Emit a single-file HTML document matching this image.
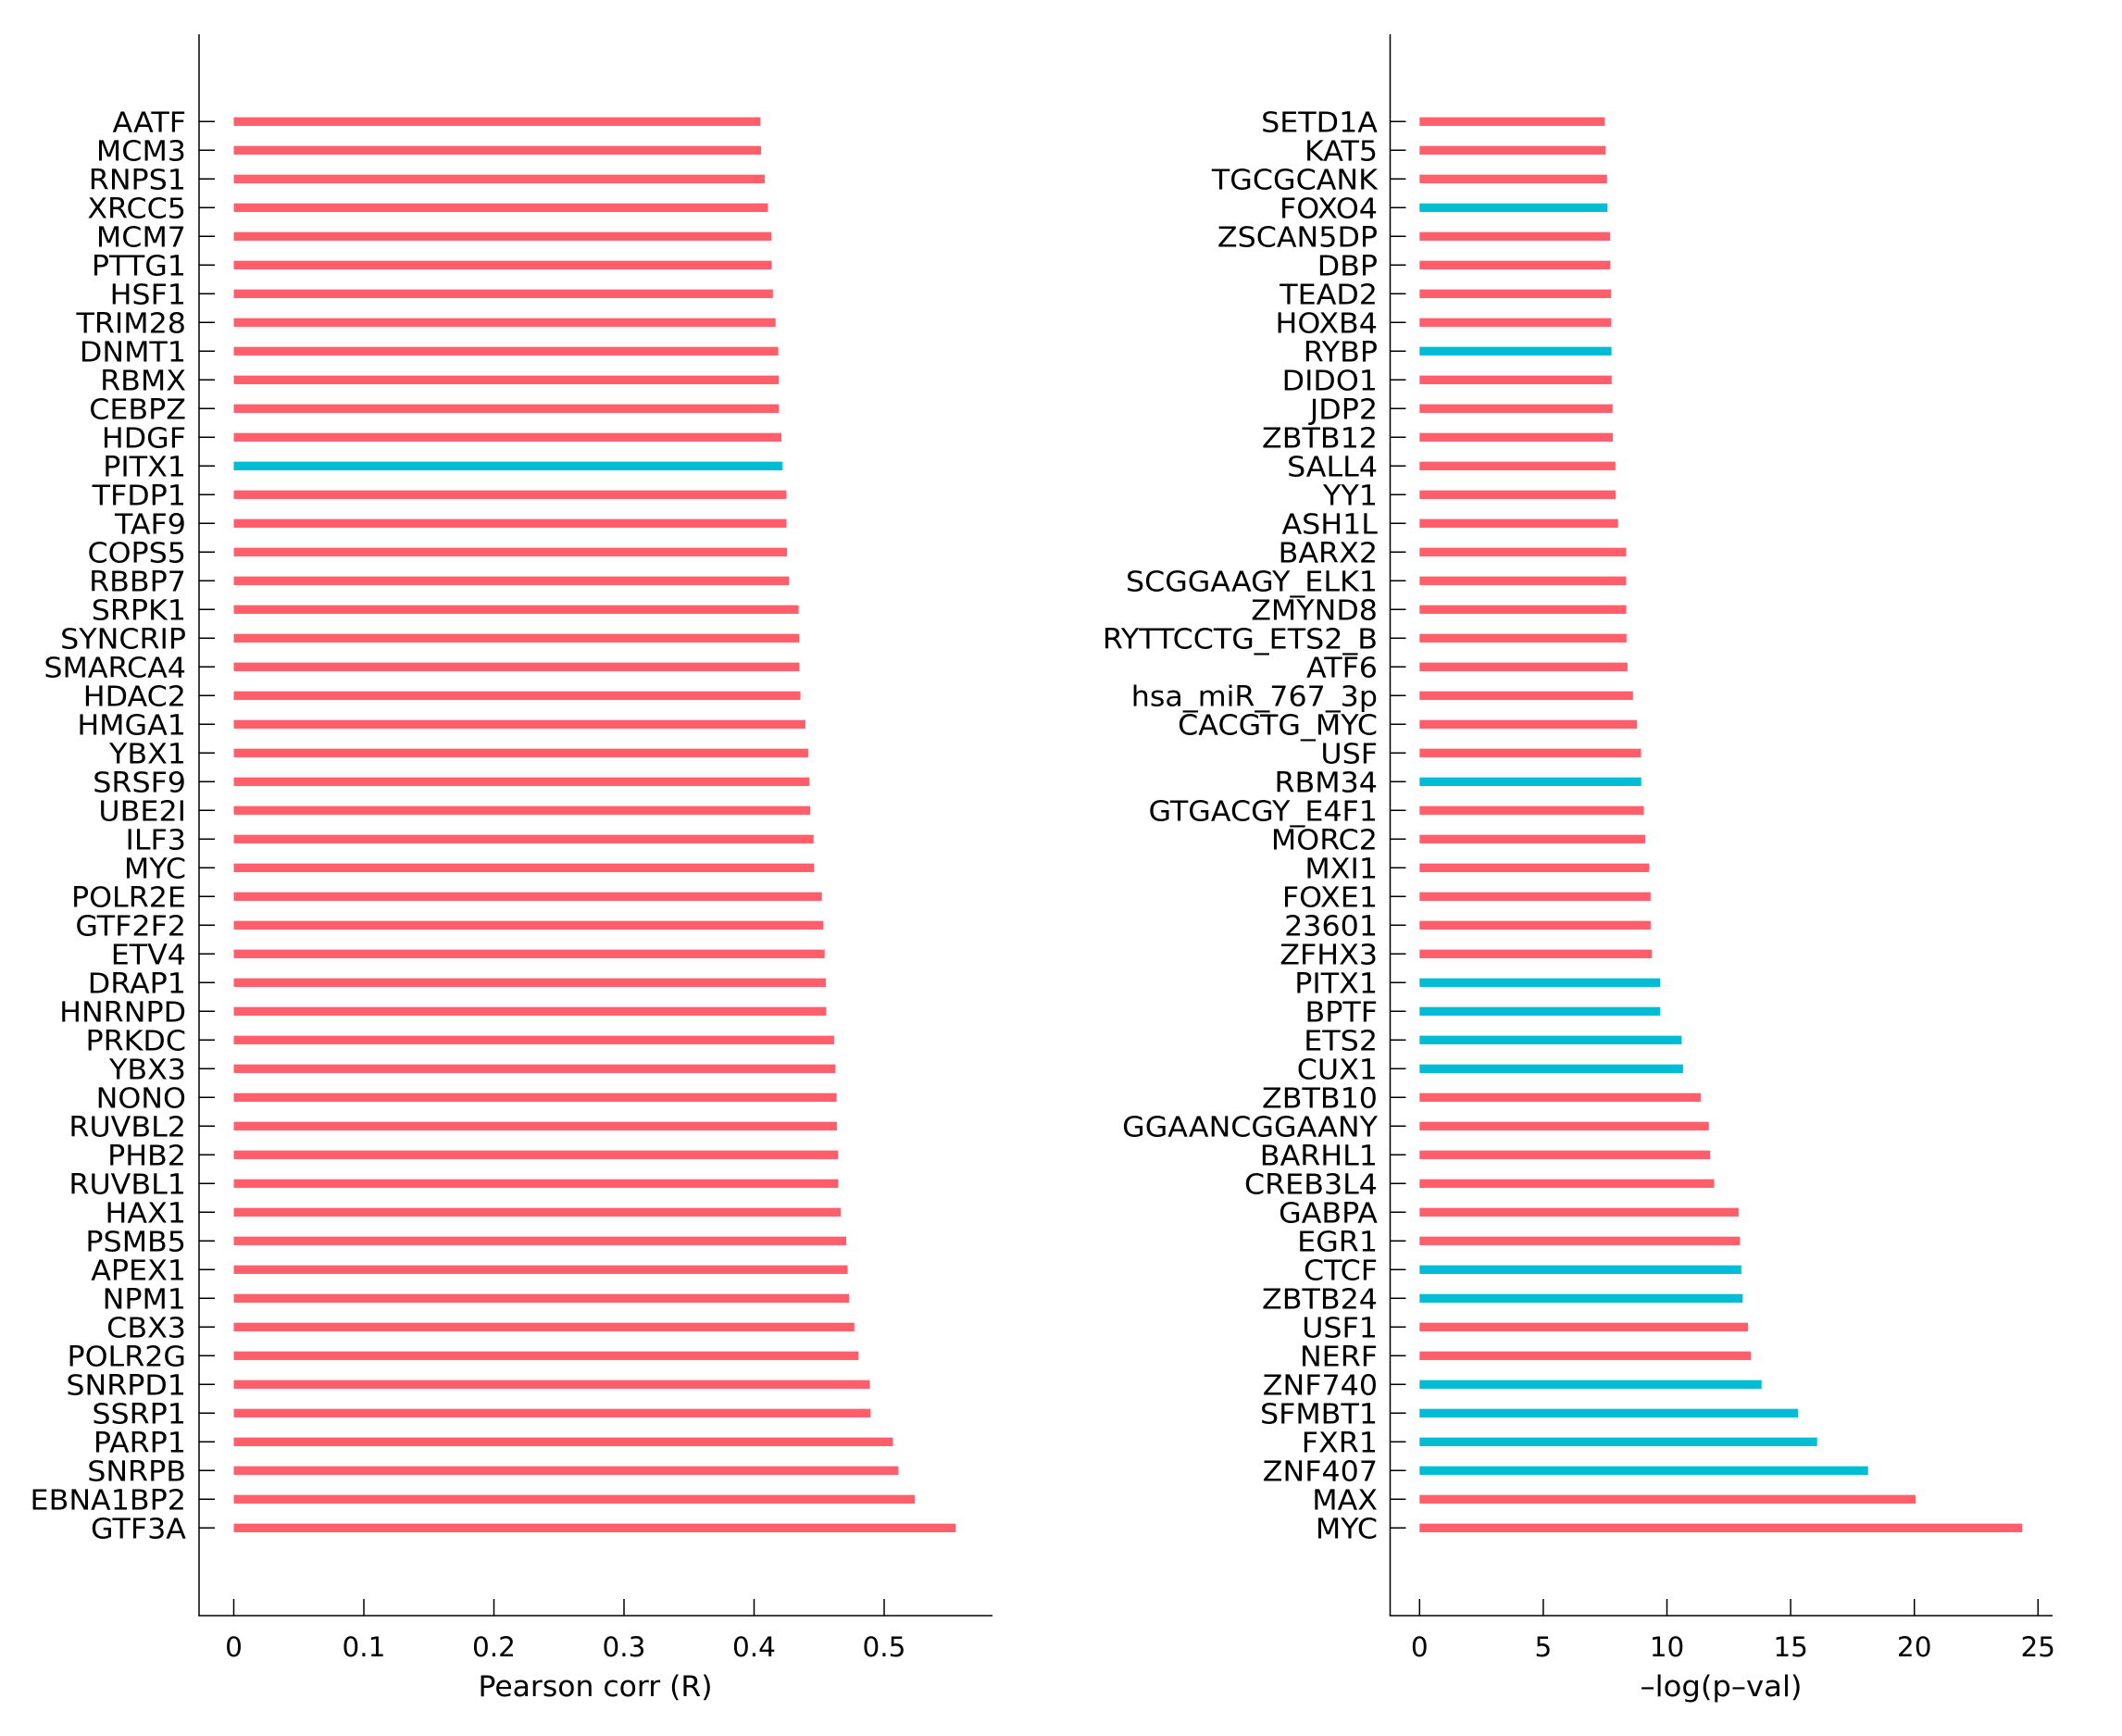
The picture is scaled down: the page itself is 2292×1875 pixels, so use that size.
<!DOCTYPE html>
<html><head><meta charset="utf-8"><style>
html,body{margin:0;padding:0;background:#fff;}
svg{display:block;}
text{font-family:"DejaVu Sans","Liberation Sans",sans-serif;fill:#000;}
.l text{font-size:30.5px;text-anchor:end;transform-box:fill-box;transform-origin:100% 50%;transform:scaleX(1.04);}
.r{fill:#FF5E6A;}
.c{fill:#00BCD4;}
.t{stroke:#000;stroke-width:1.5;}
.k text{font-size:29.5px;text-anchor:middle;}
</style></head><body>
<svg width="2292" height="1875" viewBox="0 0 2292 1875" xmlns="http://www.w3.org/2000/svg">
<rect width="2292" height="1875" fill="#fff"/>
<!-- LEFT PANEL -->
<line class="t" x1="215" y1="37" x2="215" y2="1745.5"/>
<line class="t" x1="214.3" y1="1745" x2="1072" y2="1745"/>
<g class="t">
<line x1="252.5" y1="1745" x2="252.5" y2="1727"/>
<line x1="393" y1="1745" x2="393" y2="1727"/>
<line x1="533.5" y1="1745" x2="533.5" y2="1727"/>
<line x1="674" y1="1745" x2="674" y2="1727"/>
<line x1="814.5" y1="1745" x2="814.5" y2="1727"/>
<line x1="955" y1="1745" x2="955" y2="1727"/>
</g>
<g class="k">
<text x="252.5" y="1789">0</text>
<text x="393" y="1789">0.1</text>
<text x="533.5" y="1789">0.2</text>
<text x="674" y="1789">0.3</text>
<text x="814.5" y="1789">0.4</text>
<text x="955" y="1789">0.5</text>
</g>
<text x="643" y="1832" font-size="31" text-anchor="middle" textLength="253" lengthAdjust="spacingAndGlyphs">Pearson corr (R)</text>
<g class="l">
<g transform="translate(0,131.3)"><rect class="r" x="252.5" y="-4.65" width="568.8" height="9.3"/><line class="t" x1="215" y1="0" x2="232" y2="0"/><text x="201" y="11">AATF</text></g>
<g transform="translate(0,162.3)"><rect class="r" x="252.5" y="-4.65" width="569.5" height="9.3"/><line class="t" x1="215" y1="0" x2="232" y2="0"/><text x="201" y="11">MCM3</text></g>
<g transform="translate(0,193.3)"><rect class="r" x="252.5" y="-4.65" width="573.5" height="9.3"/><line class="t" x1="215" y1="0" x2="232" y2="0"/><text x="201" y="11">RNPS1</text></g>
<g transform="translate(0,224.3)"><rect class="r" x="252.5" y="-4.65" width="576.9" height="9.3"/><line class="t" x1="215" y1="0" x2="232" y2="0"/><text x="201" y="11">XRCC5</text></g>
<g transform="translate(0,255.3)"><rect class="r" x="252.5" y="-4.65" width="580.6" height="9.3"/><line class="t" x1="215" y1="0" x2="232" y2="0"/><text x="201" y="11">MCM7</text></g>
<g transform="translate(0,286.3)"><rect class="r" x="252.5" y="-4.65" width="581.0" height="9.3"/><line class="t" x1="215" y1="0" x2="232" y2="0"/><text x="201" y="11">PTTG1</text></g>
<g transform="translate(0,317.3)"><rect class="r" x="252.5" y="-4.65" width="582.3" height="9.3"/><line class="t" x1="215" y1="0" x2="232" y2="0"/><text x="201" y="11">HSF1</text></g>
<g transform="translate(0,348.3)"><rect class="r" x="252.5" y="-4.65" width="585.2" height="9.3"/><line class="t" x1="215" y1="0" x2="232" y2="0"/><text x="201" y="11">TRIM28</text></g>
<g transform="translate(0,379.3)"><rect class="r" x="252.5" y="-4.65" width="588.1" height="9.3"/><line class="t" x1="215" y1="0" x2="232" y2="0"/><text x="201" y="11">DNMT1</text></g>
<g transform="translate(0,410.3)"><rect class="r" x="252.5" y="-4.65" width="588.5" height="9.3"/><line class="t" x1="215" y1="0" x2="232" y2="0"/><text x="201" y="11">RBMX</text></g>
<g transform="translate(0,441.3)"><rect class="r" x="252.5" y="-4.65" width="588.7" height="9.3"/><line class="t" x1="215" y1="0" x2="232" y2="0"/><text x="201" y="11">CEBPZ</text></g>
<g transform="translate(0,472.3)"><rect class="r" x="252.5" y="-4.65" width="591.5" height="9.3"/><line class="t" x1="215" y1="0" x2="232" y2="0"/><text x="201" y="11">HDGF</text></g>
<g transform="translate(0,503.3)"><rect class="c" x="252.5" y="-4.65" width="592.5" height="9.3"/><line class="t" x1="215" y1="0" x2="232" y2="0"/><text x="201" y="11">PITX1</text></g>
<g transform="translate(0,534.3)"><rect class="r" x="252.5" y="-4.65" width="596.9" height="9.3"/><line class="t" x1="215" y1="0" x2="232" y2="0"/><text x="201" y="11">TFDP1</text></g>
<g transform="translate(0,565.3)"><rect class="r" x="252.5" y="-4.65" width="597.0" height="9.3"/><line class="t" x1="215" y1="0" x2="232" y2="0"/><text x="201" y="11">TAF9</text></g>
<g transform="translate(0,596.3)"><rect class="r" x="252.5" y="-4.65" width="597.5" height="9.3"/><line class="t" x1="215" y1="0" x2="232" y2="0"/><text x="201" y="11">COPS5</text></g>
<g transform="translate(0,627.3)"><rect class="r" x="252.5" y="-4.65" width="599.8" height="9.3"/><line class="t" x1="215" y1="0" x2="232" y2="0"/><text x="201" y="11">RBBP7</text></g>
<g transform="translate(0,658.3)"><rect class="r" x="252.5" y="-4.65" width="610.1" height="9.3"/><line class="t" x1="215" y1="0" x2="232" y2="0"/><text x="201" y="11">SRPK1</text></g>
<g transform="translate(0,689.3)"><rect class="r" x="252.5" y="-4.65" width="610.7" height="9.3"/><line class="t" x1="215" y1="0" x2="232" y2="0"/><text x="201" y="11">SYNCRIP</text></g>
<g transform="translate(0,720.3)"><rect class="r" x="252.5" y="-4.65" width="610.8" height="9.3"/><line class="t" x1="215" y1="0" x2="232" y2="0"/><text x="201" y="11">SMARCA4</text></g>
<g transform="translate(0,751.3)"><rect class="r" x="252.5" y="-4.65" width="612.0" height="9.3"/><line class="t" x1="215" y1="0" x2="232" y2="0"/><text x="201" y="11">HDAC2</text></g>
<g transform="translate(0,782.3)"><rect class="r" x="252.5" y="-4.65" width="617.4" height="9.3"/><line class="t" x1="215" y1="0" x2="232" y2="0"/><text x="201" y="11">HMGA1</text></g>
<g transform="translate(0,813.3)"><rect class="r" x="252.5" y="-4.65" width="620.4" height="9.3"/><line class="t" x1="215" y1="0" x2="232" y2="0"/><text x="201" y="11">YBX1</text></g>
<g transform="translate(0,844.3)"><rect class="r" x="252.5" y="-4.65" width="621.8" height="9.3"/><line class="t" x1="215" y1="0" x2="232" y2="0"/><text x="201" y="11">SRSF9</text></g>
<g transform="translate(0,875.3)"><rect class="r" x="252.5" y="-4.65" width="622.5" height="9.3"/><line class="t" x1="215" y1="0" x2="232" y2="0"/><text x="201" y="11">UBE2I</text></g>
<g transform="translate(0,906.3)"><rect class="r" x="252.5" y="-4.65" width="626.2" height="9.3"/><line class="t" x1="215" y1="0" x2="232" y2="0"/><text x="201" y="11">ILF3</text></g>
<g transform="translate(0,937.3)"><rect class="r" x="252.5" y="-4.65" width="626.8" height="9.3"/><line class="t" x1="215" y1="0" x2="232" y2="0"/><text x="201" y="11">MYC</text></g>
<g transform="translate(0,968.3)"><rect class="r" x="252.5" y="-4.65" width="635.2" height="9.3"/><line class="t" x1="215" y1="0" x2="232" y2="0"/><text x="201" y="11">POLR2E</text></g>
<g transform="translate(0,999.3)"><rect class="r" x="252.5" y="-4.65" width="636.7" height="9.3"/><line class="t" x1="215" y1="0" x2="232" y2="0"/><text x="201" y="11">GTF2F2</text></g>
<g transform="translate(0,1030.3)"><rect class="r" x="252.5" y="-4.65" width="638.2" height="9.3"/><line class="t" x1="215" y1="0" x2="232" y2="0"/><text x="201" y="11">ETV4</text></g>
<g transform="translate(0,1061.3)"><rect class="r" x="252.5" y="-4.65" width="639.6" height="9.3"/><line class="t" x1="215" y1="0" x2="232" y2="0"/><text x="201" y="11">DRAP1</text></g>
<g transform="translate(0,1092.3)"><rect class="r" x="252.5" y="-4.65" width="639.9" height="9.3"/><line class="t" x1="215" y1="0" x2="232" y2="0"/><text x="201" y="11">HNRNPD</text></g>
<g transform="translate(0,1123.3)"><rect class="r" x="252.5" y="-4.65" width="648.4" height="9.3"/><line class="t" x1="215" y1="0" x2="232" y2="0"/><text x="201" y="11">PRKDC</text></g>
<g transform="translate(0,1154.3)"><rect class="r" x="252.5" y="-4.65" width="649.9" height="9.3"/><line class="t" x1="215" y1="0" x2="232" y2="0"/><text x="201" y="11">YBX3</text></g>
<g transform="translate(0,1185.3)"><rect class="r" x="252.5" y="-4.65" width="651.1" height="9.3"/><line class="t" x1="215" y1="0" x2="232" y2="0"/><text x="201" y="11">NONO</text></g>
<g transform="translate(0,1216.3)"><rect class="r" x="252.5" y="-4.65" width="651.4" height="9.3"/><line class="t" x1="215" y1="0" x2="232" y2="0"/><text x="201" y="11">RUVBL2</text></g>
<g transform="translate(0,1247.3)"><rect class="r" x="252.5" y="-4.65" width="652.7" height="9.3"/><line class="t" x1="215" y1="0" x2="232" y2="0"/><text x="201" y="11">PHB2</text></g>
<g transform="translate(0,1278.3)"><rect class="r" x="252.5" y="-4.65" width="652.9" height="9.3"/><line class="t" x1="215" y1="0" x2="232" y2="0"/><text x="201" y="11">RUVBL1</text></g>
<g transform="translate(0,1309.3)"><rect class="r" x="252.5" y="-4.65" width="655.7" height="9.3"/><line class="t" x1="215" y1="0" x2="232" y2="0"/><text x="201" y="11">HAX1</text></g>
<g transform="translate(0,1340.3)"><rect class="r" x="252.5" y="-4.65" width="661.6" height="9.3"/><line class="t" x1="215" y1="0" x2="232" y2="0"/><text x="201" y="11">PSMB5</text></g>
<g transform="translate(0,1371.3)"><rect class="r" x="252.5" y="-4.65" width="663.0" height="9.3"/><line class="t" x1="215" y1="0" x2="232" y2="0"/><text x="201" y="11">APEX1</text></g>
<g transform="translate(0,1402.3)"><rect class="r" x="252.5" y="-4.65" width="664.5" height="9.3"/><line class="t" x1="215" y1="0" x2="232" y2="0"/><text x="201" y="11">NPM1</text></g>
<g transform="translate(0,1433.3)"><rect class="r" x="252.5" y="-4.65" width="670.3" height="9.3"/><line class="t" x1="215" y1="0" x2="232" y2="0"/><text x="201" y="11">CBX3</text></g>
<g transform="translate(0,1464.3)"><rect class="r" x="252.5" y="-4.65" width="674.7" height="9.3"/><line class="t" x1="215" y1="0" x2="232" y2="0"/><text x="201" y="11">POLR2G</text></g>
<g transform="translate(0,1495.3)"><rect class="r" x="252.5" y="-4.65" width="687.0" height="9.3"/><line class="t" x1="215" y1="0" x2="232" y2="0"/><text x="201" y="11">SNRPD1</text></g>
<g transform="translate(0,1526.3)"><rect class="r" x="252.5" y="-4.65" width="687.9" height="9.3"/><line class="t" x1="215" y1="0" x2="232" y2="0"/><text x="201" y="11">SSRP1</text></g>
<g transform="translate(0,1557.3)"><rect class="r" x="252.5" y="-4.65" width="712.0" height="9.3"/><line class="t" x1="215" y1="0" x2="232" y2="0"/><text x="201" y="11">PARP1</text></g>
<g transform="translate(0,1588.3)"><rect class="r" x="252.5" y="-4.65" width="717.9" height="9.3"/><line class="t" x1="215" y1="0" x2="232" y2="0"/><text x="201" y="11">SNRPB</text></g>
<g transform="translate(0,1619.3)"><rect class="r" x="252.5" y="-4.65" width="735.7" height="9.3"/><line class="t" x1="215" y1="0" x2="232" y2="0"/><text x="201" y="11">EBNA1BP2</text></g>
<g transform="translate(0,1650.3)"><rect class="r" x="252.5" y="-4.65" width="779.8" height="9.3"/><line class="t" x1="215" y1="0" x2="232" y2="0"/><text x="201" y="11">GTF3A</text></g>
</g>

<!-- RIGHT PANEL -->
<line class="t" x1="1501.5" y1="37" x2="1501.5" y2="1745.5"/>
<line class="t" x1="1500.8" y1="1745" x2="2217" y2="1745"/>
<g class="t">
<line x1="1533.3" y1="1745" x2="1533.3" y2="1727"/>
<line x1="1666.9" y1="1745" x2="1666.9" y2="1727"/>
<line x1="1800.5" y1="1745" x2="1800.5" y2="1727"/>
<line x1="1934.1" y1="1745" x2="1934.1" y2="1727"/>
<line x1="2067.7" y1="1745" x2="2067.7" y2="1727"/>
<line x1="2201.3" y1="1745" x2="2201.3" y2="1727"/>
</g>
<g class="k">
<text x="1533.3" y="1789">0</text>
<text x="1666.9" y="1789">5</text>
<text x="1800.5" y="1789">10</text>
<text x="1934.1" y="1789">15</text>
<text x="2067.7" y="1789">20</text>
<text x="2201.3" y="1789">25</text>
</g>
<text x="1859" y="1832" font-size="31" text-anchor="middle" textLength="175" lengthAdjust="spacingAndGlyphs">–log(p–val)</text>
<g class="l">
<g transform="translate(0,131.3)"><rect class="r" x="1533.3" y="-4.65" width="200.0" height="9.3"/><line class="t" x1="1501.5" y1="0" x2="1518.5" y2="0"/><text x="1488" y="11">SETD1A</text></g>
<g transform="translate(0,162.3)"><rect class="r" x="1533.3" y="-4.65" width="201.0" height="9.3"/><line class="t" x1="1501.5" y1="0" x2="1518.5" y2="0"/><text x="1488" y="11">KAT5</text></g>
<g transform="translate(0,193.3)"><rect class="r" x="1533.3" y="-4.65" width="202.4" height="9.3"/><line class="t" x1="1501.5" y1="0" x2="1518.5" y2="0"/><text x="1488" y="11">TGCGCANK</text></g>
<g transform="translate(0,224.3)"><rect class="c" x="1533.3" y="-4.65" width="203.0" height="9.3"/><line class="t" x1="1501.5" y1="0" x2="1518.5" y2="0"/><text x="1488" y="11">FOXO4</text></g>
<g transform="translate(0,255.3)"><rect class="r" x="1533.3" y="-4.65" width="205.7" height="9.3"/><line class="t" x1="1501.5" y1="0" x2="1518.5" y2="0"/><text x="1488" y="11">ZSCAN5DP</text></g>
<g transform="translate(0,286.3)"><rect class="r" x="1533.3" y="-4.65" width="206.0" height="9.3"/><line class="t" x1="1501.5" y1="0" x2="1518.5" y2="0"/><text x="1488" y="11">DBP</text></g>
<g transform="translate(0,317.3)"><rect class="r" x="1533.3" y="-4.65" width="206.9" height="9.3"/><line class="t" x1="1501.5" y1="0" x2="1518.5" y2="0"/><text x="1488" y="11">TEAD2</text></g>
<g transform="translate(0,348.3)"><rect class="r" x="1533.3" y="-4.65" width="207.1" height="9.3"/><line class="t" x1="1501.5" y1="0" x2="1518.5" y2="0"/><text x="1488" y="11">HOXB4</text></g>
<g transform="translate(0,379.3)"><rect class="c" x="1533.3" y="-4.65" width="207.3" height="9.3"/><line class="t" x1="1501.5" y1="0" x2="1518.5" y2="0"/><text x="1488" y="11">RYBP</text></g>
<g transform="translate(0,410.3)"><rect class="r" x="1533.3" y="-4.65" width="207.5" height="9.3"/><line class="t" x1="1501.5" y1="0" x2="1518.5" y2="0"/><text x="1488" y="11">DIDO1</text></g>
<g transform="translate(0,441.3)"><rect class="r" x="1533.3" y="-4.65" width="208.5" height="9.3"/><line class="t" x1="1501.5" y1="0" x2="1518.5" y2="0"/><text x="1488" y="11">JDP2</text></g>
<g transform="translate(0,472.3)"><rect class="r" x="1533.3" y="-4.65" width="208.7" height="9.3"/><line class="t" x1="1501.5" y1="0" x2="1518.5" y2="0"/><text x="1488" y="11">ZBTB12</text></g>
<g transform="translate(0,503.3)"><rect class="r" x="1533.3" y="-4.65" width="211.5" height="9.3"/><line class="t" x1="1501.5" y1="0" x2="1518.5" y2="0"/><text x="1488" y="11">SALL4</text></g>
<g transform="translate(0,534.3)"><rect class="r" x="1533.3" y="-4.65" width="211.7" height="9.3"/><line class="t" x1="1501.5" y1="0" x2="1518.5" y2="0"/><text x="1488" y="11">YY1</text></g>
<g transform="translate(0,565.3)"><rect class="r" x="1533.3" y="-4.65" width="214.4" height="9.3"/><line class="t" x1="1501.5" y1="0" x2="1518.5" y2="0"/><text x="1488" y="11">ASH1L</text></g>
<g transform="translate(0,596.3)"><rect class="r" x="1533.3" y="-4.65" width="223.2" height="9.3"/><line class="t" x1="1501.5" y1="0" x2="1518.5" y2="0"/><text x="1488" y="11">BARX2</text></g>
<g transform="translate(0,627.3)"><rect class="r" x="1533.3" y="-4.65" width="223.2" height="9.3"/><line class="t" x1="1501.5" y1="0" x2="1518.5" y2="0"/><text x="1488" y="11">SCGGAAGY_ELK1</text></g>
<g transform="translate(0,658.3)"><rect class="r" x="1533.3" y="-4.65" width="223.3" height="9.3"/><line class="t" x1="1501.5" y1="0" x2="1518.5" y2="0"/><text x="1488" y="11">ZMYND8</text></g>
<g transform="translate(0,689.3)"><rect class="r" x="1533.3" y="-4.65" width="223.5" height="9.3"/><line class="t" x1="1501.5" y1="0" x2="1518.5" y2="0"/><text x="1488" y="11">RYTTCCTG_ETS2_B</text></g>
<g transform="translate(0,720.3)"><rect class="r" x="1533.3" y="-4.65" width="224.6" height="9.3"/><line class="t" x1="1501.5" y1="0" x2="1518.5" y2="0"/><text x="1488" y="11">ATF6</text></g>
<g transform="translate(0,751.3)"><rect class="r" x="1533.3" y="-4.65" width="230.5" height="9.3"/><line class="t" x1="1501.5" y1="0" x2="1518.5" y2="0"/><text x="1488" y="11">hsa_miR_767_3p</text></g>
<g transform="translate(0,782.3)"><rect class="r" x="1533.3" y="-4.65" width="234.9" height="9.3"/><line class="t" x1="1501.5" y1="0" x2="1518.5" y2="0"/><text x="1488" y="11">CACGTG_MYC</text></g>
<g transform="translate(0,813.3)"><rect class="r" x="1533.3" y="-4.65" width="239.2" height="9.3"/><line class="t" x1="1501.5" y1="0" x2="1518.5" y2="0"/><text x="1488" y="11">USF</text></g>
<g transform="translate(0,844.3)"><rect class="c" x="1533.3" y="-4.65" width="239.4" height="9.3"/><line class="t" x1="1501.5" y1="0" x2="1518.5" y2="0"/><text x="1488" y="11">RBM34</text></g>
<g transform="translate(0,875.3)"><rect class="r" x="1533.3" y="-4.65" width="242.2" height="9.3"/><line class="t" x1="1501.5" y1="0" x2="1518.5" y2="0"/><text x="1488" y="11">GTGACGY_E4F1</text></g>
<g transform="translate(0,906.3)"><rect class="r" x="1533.3" y="-4.65" width="243.6" height="9.3"/><line class="t" x1="1501.5" y1="0" x2="1518.5" y2="0"/><text x="1488" y="11">MORC2</text></g>
<g transform="translate(0,937.3)"><rect class="r" x="1533.3" y="-4.65" width="248.0" height="9.3"/><line class="t" x1="1501.5" y1="0" x2="1518.5" y2="0"/><text x="1488" y="11">MXI1</text></g>
<g transform="translate(0,968.3)"><rect class="r" x="1533.3" y="-4.65" width="249.5" height="9.3"/><line class="t" x1="1501.5" y1="0" x2="1518.5" y2="0"/><text x="1488" y="11">FOXE1</text></g>
<g transform="translate(0,999.3)"><rect class="r" x="1533.3" y="-4.65" width="249.6" height="9.3"/><line class="t" x1="1501.5" y1="0" x2="1518.5" y2="0"/><text x="1488" y="11">23601</text></g>
<g transform="translate(0,1030.3)"><rect class="r" x="1533.3" y="-4.65" width="251.0" height="9.3"/><line class="t" x1="1501.5" y1="0" x2="1518.5" y2="0"/><text x="1488" y="11">ZFHX3</text></g>
<g transform="translate(0,1061.3)"><rect class="c" x="1533.3" y="-4.65" width="259.7" height="9.3"/><line class="t" x1="1501.5" y1="0" x2="1518.5" y2="0"/><text x="1488" y="11">PITX1</text></g>
<g transform="translate(0,1092.3)"><rect class="c" x="1533.3" y="-4.65" width="259.9" height="9.3"/><line class="t" x1="1501.5" y1="0" x2="1518.5" y2="0"/><text x="1488" y="11">BPTF</text></g>
<g transform="translate(0,1123.3)"><rect class="c" x="1533.3" y="-4.65" width="283.1" height="9.3"/><line class="t" x1="1501.5" y1="0" x2="1518.5" y2="0"/><text x="1488" y="11">ETS2</text></g>
<g transform="translate(0,1154.3)"><rect class="c" x="1533.3" y="-4.65" width="284.6" height="9.3"/><line class="t" x1="1501.5" y1="0" x2="1518.5" y2="0"/><text x="1488" y="11">CUX1</text></g>
<g transform="translate(0,1185.3)"><rect class="r" x="1533.3" y="-4.65" width="303.6" height="9.3"/><line class="t" x1="1501.5" y1="0" x2="1518.5" y2="0"/><text x="1488" y="11">ZBTB10</text></g>
<g transform="translate(0,1216.3)"><rect class="r" x="1533.3" y="-4.65" width="312.4" height="9.3"/><line class="t" x1="1501.5" y1="0" x2="1518.5" y2="0"/><text x="1488" y="11">GGAANCGGAANY</text></g>
<g transform="translate(0,1247.3)"><rect class="r" x="1533.3" y="-4.65" width="313.8" height="9.3"/><line class="t" x1="1501.5" y1="0" x2="1518.5" y2="0"/><text x="1488" y="11">BARHL1</text></g>
<g transform="translate(0,1278.3)"><rect class="r" x="1533.3" y="-4.65" width="318.2" height="9.3"/><line class="t" x1="1501.5" y1="0" x2="1518.5" y2="0"/><text x="1488" y="11">CREB3L4</text></g>
<g transform="translate(0,1309.3)"><rect class="r" x="1533.3" y="-4.65" width="344.6" height="9.3"/><line class="t" x1="1501.5" y1="0" x2="1518.5" y2="0"/><text x="1488" y="11">GABPA</text></g>
<g transform="translate(0,1340.3)"><rect class="r" x="1533.3" y="-4.65" width="346.0" height="9.3"/><line class="t" x1="1501.5" y1="0" x2="1518.5" y2="0"/><text x="1488" y="11">EGR1</text></g>
<g transform="translate(0,1371.3)"><rect class="c" x="1533.3" y="-4.65" width="347.5" height="9.3"/><line class="t" x1="1501.5" y1="0" x2="1518.5" y2="0"/><text x="1488" y="11">CTCF</text></g>
<g transform="translate(0,1402.3)"><rect class="c" x="1533.3" y="-4.65" width="349.0" height="9.3"/><line class="t" x1="1501.5" y1="0" x2="1518.5" y2="0"/><text x="1488" y="11">ZBTB24</text></g>
<g transform="translate(0,1433.3)"><rect class="r" x="1533.3" y="-4.65" width="354.8" height="9.3"/><line class="t" x1="1501.5" y1="0" x2="1518.5" y2="0"/><text x="1488" y="11">USF1</text></g>
<g transform="translate(0,1464.3)"><rect class="r" x="1533.3" y="-4.65" width="357.7" height="9.3"/><line class="t" x1="1501.5" y1="0" x2="1518.5" y2="0"/><text x="1488" y="11">NERF</text></g>
<g transform="translate(0,1495.3)"><rect class="c" x="1533.3" y="-4.65" width="369.4" height="9.3"/><line class="t" x1="1501.5" y1="0" x2="1518.5" y2="0"/><text x="1488" y="11">ZNF740</text></g>
<g transform="translate(0,1526.3)"><rect class="c" x="1533.3" y="-4.65" width="408.9" height="9.3"/><line class="t" x1="1501.5" y1="0" x2="1518.5" y2="0"/><text x="1488" y="11">SFMBT1</text></g>
<g transform="translate(0,1557.3)"><rect class="c" x="1533.3" y="-4.65" width="429.4" height="9.3"/><line class="t" x1="1501.5" y1="0" x2="1518.5" y2="0"/><text x="1488" y="11">FXR1</text></g>
<g transform="translate(0,1588.3)"><rect class="c" x="1533.3" y="-4.65" width="484.4" height="9.3"/><line class="t" x1="1501.5" y1="0" x2="1518.5" y2="0"/><text x="1488" y="11">ZNF407</text></g>
<g transform="translate(0,1619.3)"><rect class="r" x="1533.3" y="-4.65" width="535.7" height="9.3"/><line class="t" x1="1501.5" y1="0" x2="1518.5" y2="0"/><text x="1488" y="11">MAX</text></g>
<g transform="translate(0,1650.3)"><rect class="r" x="1533.3" y="-4.65" width="651.0" height="9.3"/><line class="t" x1="1501.5" y1="0" x2="1518.5" y2="0"/><text x="1488" y="11">MYC</text></g>
</g>
</svg>
</body></html>
